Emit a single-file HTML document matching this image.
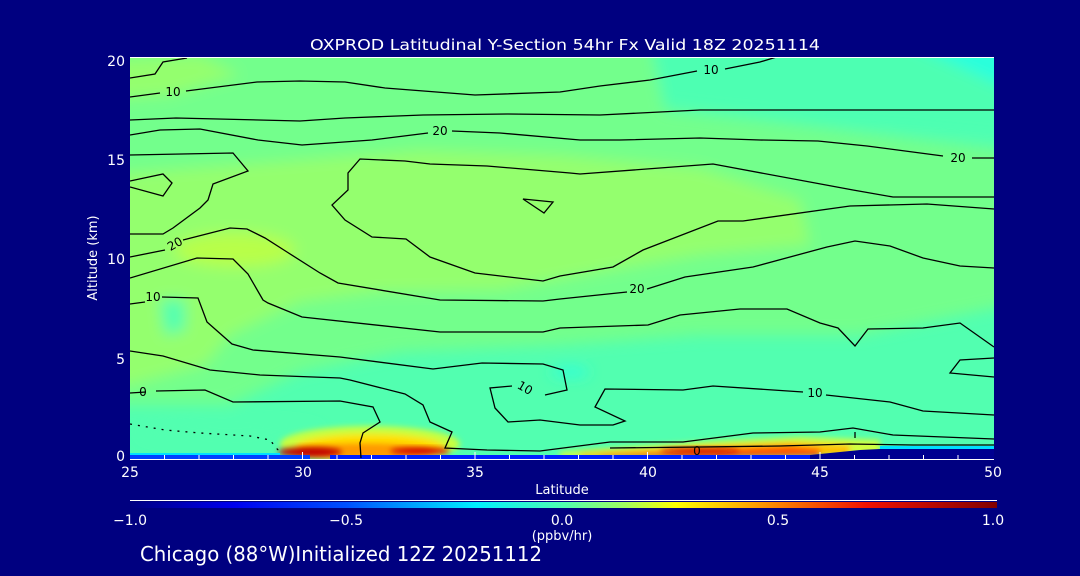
<!DOCTYPE html>
<html><head><meta charset="utf-8"><style>
html,body{margin:0;padding:0;background:#000080;}
svg{display:block}
text{font-family:"DejaVu Sans","Liberation Sans",sans-serif;fill:#fff}
text.cl{fill:#000}
</style></head><body>
<svg width="1080" height="576" viewBox="0 0 1080 576" xmlns="http://www.w3.org/2000/svg">
<defs>
<clipPath id="pc"><rect x="130" y="58" width="864" height="401"/></clipPath>
<filter id="b6" x="-20%" y="-20%" width="140%" height="140%"><feGaussianBlur stdDeviation="7"/></filter>
<filter id="b3" x="-20%" y="-50%" width="140%" height="200%"><feGaussianBlur stdDeviation="3"/></filter>
<linearGradient id="cb" x1="0" x2="1" y1="0" y2="0">
<stop offset="0" stop-color="#000080"/><stop offset="0.12" stop-color="#0000ee"/>
<stop offset="0.25" stop-color="#0050ff"/><stop offset="0.40" stop-color="#00f0ff"/>
<stop offset="0.50" stop-color="#50ffb0"/><stop offset="0.57" stop-color="#a0ff60"/>
<stop offset="0.63" stop-color="#ffff00"/><stop offset="0.72" stop-color="#ffa000"/>
<stop offset="0.85" stop-color="#f01000"/><stop offset="1" stop-color="#800000"/>
</linearGradient>
</defs>
<rect width="1080" height="576" fill="#000080"/>
<g clip-path="url(#pc)">
<rect x="120" y="50" width="890" height="420" fill="#52ffb0"/>
<g filter="url(#b6)">
<polygon fill="#73ff8c" points="100,40 650,40 665,110 800,125 1010,150 1010,305 860,335 700,335 560,345 400,352 300,372 230,405 100,405"/>
<polygon fill="#2affdc" points="900,40 1010,40 1010,85 930,82"/>
<polygon fill="#4effb2" points="650,40 900,40 1010,90 1010,140 800,120 665,105"/>
<polygon fill="#94ff6e" points="100,60 200,55 240,75 170,95 100,100"/>
<polygon fill="#94ff6e" points="100,175 300,160 420,150 560,155 700,168 800,200 810,245 700,255 600,272 500,290 380,292 300,302 230,335 205,365 130,385 100,385"/>
<ellipse cx="235" cy="250" rx="60" ry="17" fill="#b8ff4a"/>
<polygon fill="#52ffb0" points="160,300 185,300 185,330 165,335"/>
<ellipse cx="570" cy="372" rx="20" ry="5" fill="#2affdc"/>
<ellipse cx="230" cy="432" rx="90" ry="10" fill="#52ffb0"/>
</g>
<g filter="url(#b3)">
<ellipse cx="370" cy="444" rx="90" ry="18" fill="#c8ff40"/>
<ellipse cx="370" cy="447" rx="75" ry="13" fill="#ffe000"/>
<ellipse cx="365" cy="451" rx="68" ry="8" fill="#ff9a00"/>
<polygon fill="#d0ff40" points="560,452 700,442 800,437 880,440 880,455 560,458"/>
<polygon fill="#ffc000" points="580,453 700,446 790,442 850,445 850,455 580,457"/>
<polygon fill="#ff5000" points="600,455 700,450 790,446 820,449 820,456 600,457"/>
</g>
<ellipse cx="310" cy="452" rx="32" ry="5" fill="#c00000" filter="url(#b3)"/>
<ellipse cx="420" cy="451" rx="30" ry="3.5" fill="#d00000" filter="url(#b3)"/>
<ellipse cx="700" cy="451" rx="40" ry="3" fill="#d01000" filter="url(#b3)"/>
<rect x="130" y="453" width="150" height="2" fill="#00e0ff"/>
<rect x="130" y="455" width="180" height="4" fill="#0040ff"/>
<rect x="330" y="455" width="480" height="4" fill="#0020ff"/>
<polygon fill="#000090" points="810,455 860,450 900,448 994,449 994,460 810,460"/>
<rect x="880" y="446" width="114" height="3" fill="#00e0ff"/>
<g fill="none" stroke="#000" stroke-width="1.3">
<polyline points="130,78 155,74 163,62 187,58"/>
<polyline points="130,97 160,93"/>
<polyline points="186,91 257,82 300,81 345,82 385,88 475,95 560,92 600,86 650,80 697,71"/>
<polyline points="725,69 760,62 780,56"/>
<polyline points="130,120 176,118 300,121 345,118 423,115 507,114 600,115 700,110 994,110"/>
<polyline points="130,135 160,130 200,129 258,140 302,145 372,140 428,133"/>
<polyline points="452,131 500,133 580,140 620,140 700,138 760,140 818,141 867,146 943,156"/>
<polyline points="972,158 994,158"/>
<polyline points="130,155 233,153 248,171 213,184 208,200 200,208 173,228 163,234 130,234"/>
<polyline points="130,181 163,174 172,183 163,196 130,187"/>
<polyline points="994,197 893,197 853,190 713,164 580,174 570,173 487,166 430,164 405,161 360,159 348,173 348,190 332,205 345,220 372,237 406,239 430,257 475,273 543,281 560,276 613,267 643,250 718,221 743,221 850,206 927,204 994,209"/>
<polygon points="523,199 553,202 544,213"/>
<polyline points="130,257 165,250"/>
<polyline points="183,240 230,228 247,229 265,238 287,252 320,273 338,283 440,300 543,301 560,299 627,292"/>
<polyline points="647,289 685,277 753,267 827,247 855,241 890,246 923,258 960,266 994,268"/>
<polyline points="130,278 197,258 233,259 248,274 263,300 268,303 302,317 440,332 543,332 560,328 648,325 680,315 740,309 787,309 820,323 838,328 855,346 868,329 923,328 960,323 994,347"/>
<polyline points="130,304 145,302"/>
<polyline points="162,297 198,298 207,322 232,344 253,350 340,357 433,369 482,363 543,364 563,370 567,390 545,395"/>
<polyline points="130,351 163,356 210,370 260,375 340,378 350,380 405,394 423,405 430,422 452,432 445,448 487,450 540,451 610,442 683,442 753,433 820,432 853,428 893,435 994,439"/>
<polyline points="512,386 490,388 495,408 508,422 540,420 580,425 613,425 625,421 595,407 605,389 683,390 713,386 803,392"/>
<polyline points="826,395 890,402 923,411 994,415"/>
<polyline points="994,358 960,360 950,373 994,377"/>
<polyline points="130,393 146,392"/>
<polyline points="156,391 205,390 233,402 340,401 373,407 380,422 363,433 360,443 361,458"/>
<polyline points="610,448 700,447 780,446 850,444 913,445 994,445"/>
<polyline points="855,432 855,438"/>
<polyline stroke-dasharray="2,6" points="130,424 165,430 200,433 250,436 270,440 278,450 277,456"/>
</g>
<g font-size="12">
<text class="cl" x="173" y="96" text-anchor="middle">10</text>
<text class="cl" x="711" y="74" text-anchor="middle">10</text>
<text class="cl" x="440" y="135" text-anchor="middle">20</text>
<text class="cl" x="958" y="162" text-anchor="middle">20</text>
<text class="cl" x="175" y="248" text-anchor="middle" transform="rotate(-30 175 244)">20</text>
<text class="cl" x="637" y="293" text-anchor="middle">20</text>
<text class="cl" x="153" y="301" text-anchor="middle">10</text>
<text class="cl" x="525" y="392" text-anchor="middle" transform="rotate(30 525 388)">10</text>
<text class="cl" x="815" y="397" text-anchor="middle">10</text>
<text class="cl" x="143" y="396" text-anchor="middle">0</text>
<text class="cl" x="697" y="455" text-anchor="middle">0</text>
</g>
</g>
<line x1="130" y1="57.5" x2="994" y2="57.5" stroke="#fff" stroke-width="1"/>
<line x1="130" y1="459.5" x2="994" y2="459.5" stroke="#fff" stroke-width="1"/>
<g stroke="#fff" stroke-width="1">
<line x1="164.5" y1="459" x2="164.5" y2="455"/><line x1="199" y1="459" x2="199" y2="455"/><line x1="233.5" y1="459" x2="233.5" y2="455"/><line x1="268" y1="459" x2="268" y2="455"/>
<line x1="337" y1="459" x2="337" y2="455"/><line x1="371.5" y1="459" x2="371.5" y2="455"/><line x1="406" y1="459" x2="406" y2="455"/><line x1="440.5" y1="459" x2="440.5" y2="455"/>
<line x1="509.5" y1="459" x2="509.5" y2="455"/><line x1="544" y1="459" x2="544" y2="455"/><line x1="578.5" y1="459" x2="578.5" y2="455"/><line x1="613" y1="459" x2="613" y2="455"/>
<line x1="682" y1="459" x2="682" y2="455"/><line x1="716.5" y1="459" x2="716.5" y2="455"/><line x1="751" y1="459" x2="751" y2="455"/><line x1="785.5" y1="459" x2="785.5" y2="455"/>
<line x1="854.5" y1="459" x2="854.5" y2="455"/><line x1="889" y1="459" x2="889" y2="455"/><line x1="923.5" y1="459" x2="923.5" y2="455"/><line x1="958" y1="459" x2="958" y2="455"/>
<line x1="302.5" y1="459" x2="302.5" y2="452"/><line x1="475" y1="459" x2="475" y2="452"/><line x1="647.5" y1="459" x2="647.5" y2="452"/><line x1="820" y1="459" x2="820" y2="452"/>
</g>
<text x="565" y="50" font-size="15" text-anchor="middle" textLength="510" lengthAdjust="spacingAndGlyphs">OXPROD Latitudinal Y-Section 54hr  Fx Valid 18Z 20251114</text>
<g font-size="14" text-anchor="end">
<text x="125" y="66">20</text><text x="125" y="165">15</text><text x="125" y="264">10</text><text x="125" y="364">5</text><text x="125" y="461">0</text>
</g>
<g font-size="14" text-anchor="middle">
<text x="130" y="477">25</text><text x="303" y="477">30</text><text x="475" y="477">35</text><text x="648" y="477">40</text><text x="820" y="477">45</text><text x="993" y="477">50</text>
</g>
<text x="562" y="494" font-size="13" text-anchor="middle">Latitude</text>
<text x="97" y="258" font-size="13" text-anchor="middle" transform="rotate(-90 97 258)">Altitude (km)</text>
<line x1="130" y1="500.5" x2="997" y2="500.5" stroke="#fff" stroke-width="1"/>
<rect x="130" y="502" width="867" height="6" fill="url(#cb)"/>
<g font-size="14" text-anchor="middle">
<text x="130" y="525">−1.0</text><text x="346" y="525">−0.5</text><text x="562" y="525">0.0</text><text x="778" y="525">0.5</text><text x="993" y="525">1.0</text>
</g>
<text x="562" y="540" font-size="13" text-anchor="middle">(ppbv/hr)</text>
<text x="140" y="561" font-size="20" textLength="402" lengthAdjust="spacingAndGlyphs">Chicago (88°W)Initialized 12Z 20251112</text>
</svg>
</body></html>
